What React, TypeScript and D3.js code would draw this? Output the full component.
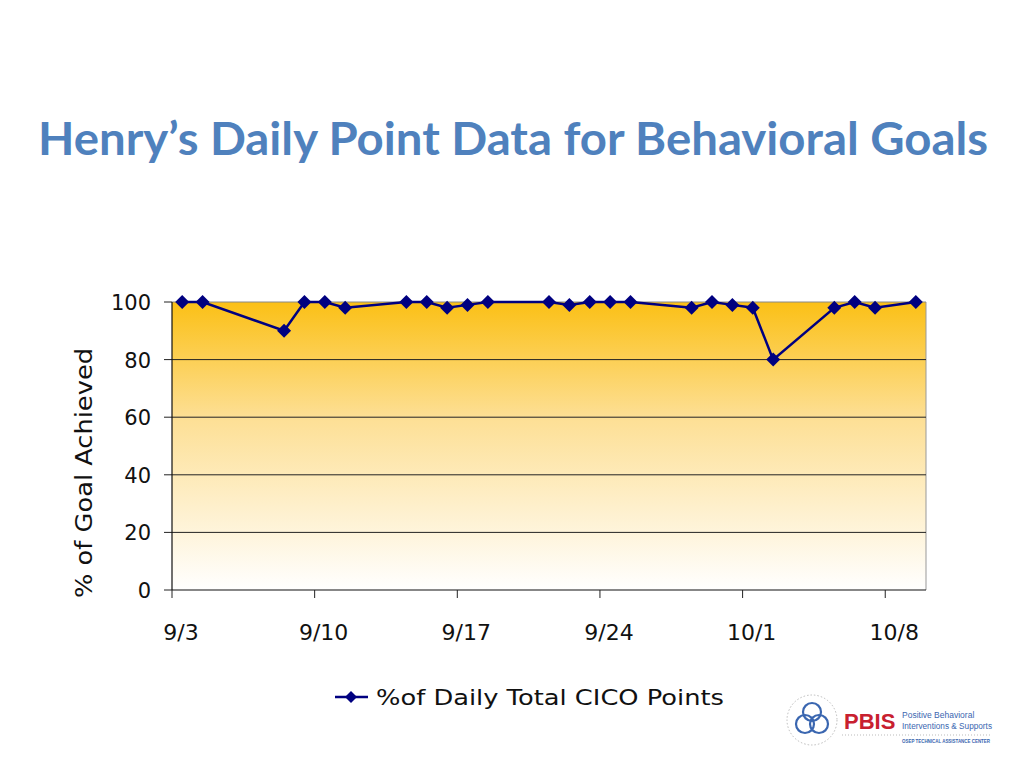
import React from "react";
import * as d3 from "d3";

const dateLabels = ["9/3","9/4","9/8","9/9","9/10","9/11","9/14","9/15","9/16","9/17","9/18","9/21","9/22","9/23","9/24","9/25","9/28","9/29","9/30","10/1","10/2","10/5","10/6","10/7","10/9"];
const pointValues = [100,100,90,100,100,98,100,100,98,99,100,100,99,100,100,100,98,100,99,98,80,98,100,98,100];
const yTicks = [0,20,40,60,80,100];
const seriesName = "%of Daily Total CICO Points";
const titleText = "Henry\u2019s Daily Point Data for Behavioral Goals";
const yAxisTitle = "% of Goal Achieved";

const YEAR = 2012;
const parseDay = (s: string) => {
  const [m, d] = s.split("/").map(Number);
  return new Date(Date.UTC(YEAR, m - 1, d));
};

export default function App() {
  const W = 1024, H = 768;
  const left = 172, right = 926, top = 302, bottom = 590;
  const start = parseDay("9/3");
  const end = d3.utcDay.offset(parseDay("10/9"), 1);
  const x = d3.scaleUtc().domain([start, end]).range([left, right]);
  const y = d3.scaleLinear().domain([0, 100]).range([bottom, top]);
  const xTicks = d3.utcDay.range(start, end, 7);
  const fmt = d3.utcFormat("%-m/%-d");
  const data = dateLabels.map((s, i) => ({ date: d3.utcHour.offset(parseDay(s), 12), v: pointValues[i] }));
  const line = d3.line<{ date: Date; v: number }>().x(d => x(d.date)).y(d => y(d.v));
  const diamond = (cx: number, cy: number, r = 7) => `M${cx},${cy - r}L${cx + r},${cy}L${cx},${cy + r}L${cx - r},${cy}Z`;
  const axisFont = "'DejaVu Sans', 'Liberation Sans', sans-serif";

  return (
    <svg width={W} height={H} style={{ position: "absolute", left: 0, top: 0, background: "#fff" }}>
      <defs>
        <linearGradient id="bg" x1="0" y1="0" x2="0" y2="1">
          <stop offset="0%" stopColor="#FBC016" />
          <stop offset="40%" stopColor="#FDDF94" />
          <stop offset="100%" stopColor="#FFFFFF" />
        </linearGradient>
      </defs>
      <text x={513} y={155} textAnchor="middle" fontFamily="Lato, 'Open Sans', sans-serif" fontWeight="bold" fontSize={45} fill="#4F81BD" textLength={950} lengthAdjust="spacingAndGlyphs">{titleText}</text>

      <rect x={left} y={top} width={right - left} height={bottom - top} fill="url(#bg)" />
      <line x1={right} x2={right} y1={top} y2={bottom} stroke="#999" strokeWidth={1} />
      {yTicks.map(t => (
        <g key={t}>
          {t > 0 && <line x1={left} x2={right} y1={y(t)} y2={y(t)} stroke={t === 100 ? "#888" : "#222"} strokeWidth={1} />}
          <line x1={164} x2={left} y1={y(t)} y2={y(t)} stroke="#222" strokeWidth={1} />
          <text x={151} y={y(t) + 8} textAnchor="end" fontFamily={axisFont} fontSize={21} fill="#111">{t}</text>
        </g>
      ))}
      <line x1={left} x2={left} y1={top} y2={bottom} stroke="#111" strokeWidth={1.2} />
      <line x1={left} x2={right} y1={bottom} y2={bottom} stroke="#111" strokeWidth={1.2} />
      {xTicks.map((t, i) => (
        <g key={i}>
          <line x1={x(t)} x2={x(t)} y1={bottom} y2={bottom + 8} stroke="#222" strokeWidth={1} />
          <text x={x(t) + 9} y={640} textAnchor="middle" fontFamily={axisFont} fontSize={22} fill="#111">{fmt(t)}</text>
        </g>
      ))}
      <text transform={`translate(92,${473}) rotate(-90)`} textAnchor="middle" fontFamily={axisFont} fontSize={23} fill="#111" textLength={250} lengthAdjust="spacingAndGlyphs">{yAxisTitle}</text>

      <path d={line(data) || ""} fill="none" stroke="#000080" strokeWidth={2.5} />
      {data.map((d, i) => (
        <path key={i} d={diamond(x(d.date), y(d.v))} fill="#000080" />
      ))}

      <line x1={335} x2={368} y1={697} y2={697} stroke="#000080" strokeWidth={2.5} />
      <path d={diamond(351, 697, 6)} fill="#000080" />
      <text x={376} y={705} fontFamily={axisFont} fontSize={22} fill="#111" textLength={348} lengthAdjust="spacingAndGlyphs">{seriesName}</text>

      <g>
        <circle cx={812} cy={720} r={25} fill="none" stroke="#bbb" strokeWidth={1} strokeDasharray="1.5 2" />
        <circle cx={812} cy={712} r={9} fill="none" stroke="#3A66B0" strokeWidth={2.2} />
        <circle cx={805} cy={724} r={9} fill="none" stroke="#3A66B0" strokeWidth={2.2} />
        <circle cx={819} cy={724} r={9} fill="none" stroke="#3A66B0" strokeWidth={2.2} />
        <text x={844} y={729} fontFamily="'Liberation Sans', Arial, sans-serif" fontWeight="bold" fontSize={22} fill="#C8202F">PBIS</text>
        <text x={902} y={718} fontFamily="'Liberation Sans', Arial, sans-serif" fontSize={8.5} fill="#3A66B0">Positive Behavioral</text>
        <text x={902} y={729} fontFamily="'Liberation Sans', Arial, sans-serif" fontSize={8.5} fill="#3A66B0" textLength={90} lengthAdjust="spacingAndGlyphs">Interventions &amp; Supports</text>
        <line x1={842} x2={992} y1={735} y2={735} stroke="#bbb" strokeWidth={1} strokeDasharray="1 2" />
        <text x={902} y={743} fontFamily="'Liberation Sans', Arial, sans-serif" fontWeight="bold" fontSize={5} fill="#3A66B0" textLength={88} lengthAdjust="spacingAndGlyphs">OSEP TECHNICAL ASSISTANCE CENTER</text>
      </g>
    </svg>
  );
}
